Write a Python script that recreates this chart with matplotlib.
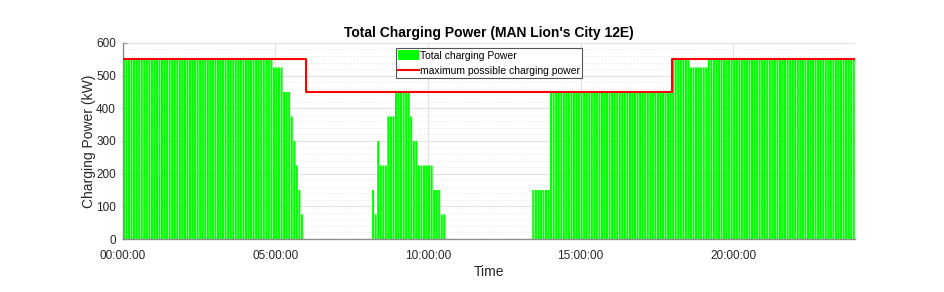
import numpy as np
import matplotlib
matplotlib.use("Agg")
import matplotlib.pyplot as plt
from matplotlib.ticker import MultipleLocator

plt.rcParams['font.family'] = ['Liberation Sans', 'DejaVu Sans']

# charging power, run-length coded over 5 minute slots (288 slots = 24 h)
slot_minutes = 5
power_levels = [550, 525, 450, 375, 300, 225, 150, 75, 0,
                150, 75, 300, 225, 375, 450, 375, 300, 225, 150, 75, 0,
                150, 450, 550, 525, 550]
power_slots = [59, 4, 3, 1, 1, 1, 1, 1, 27,
               1, 1, 1, 3, 3, 6, 1, 2, 6, 3, 2, 34,
               7, 48, 7, 7, 58]

# maximum possible charging power (step, in hours)
max_time = [0, 6, 18, 24]
max_power = [550, 450, 550, 550]

tick_hours = [0, 5, 10, 15, 20]
tick_labels = ["00:00:00", "05:00:00", "10:00:00", "15:00:00", "20:00:00"]

power = np.repeat(power_levels, power_slots)
t = np.arange(len(power)) * slot_minutes / 60.0

fig = plt.figure(figsize=(9.45, 2.92), dpi=100)
ax = fig.add_axes([0.130, 0.1815, 0.775, 0.6715])

bars = ax.bar(t, power, width=slot_minutes / 60.0 * 0.82, align='edge',
              color='#00ff00', edgecolor='none', label='Total charging Power', zorder=2)
for b in bars:
    b.set_snap(False)
line, = ax.plot(max_time, max_power, drawstyle='steps-post', color='#ff0000', lw=1.5,
                label='maximum possible charging power', zorder=3)

ax.set_xlim(0, 24)
ax.set_ylim(0, 600)
ax.set_xticks(tick_hours)
ax.set_xticklabels(tick_labels)
ax.yaxis.set_major_locator(MultipleLocator(100))
ax.yaxis.set_minor_locator(MultipleLocator(20))

ax.set_axisbelow(True)
ax.grid(True, which='major', color='#e2e2e2', lw=0.8, ls='-')
ax.grid(True, which='minor', axis='y', color='#e6e6e6', lw=0.7, ls=(0, (1, 2)))

for s in ['top', 'right']:
    ax.spines[s].set_visible(False)
for s in ['left', 'bottom']:
    ax.spines[s].set_color('#8c8c8c')
    ax.spines[s].set_linewidth(1.0)
ax.tick_params(which='both', direction='in', colors='#8c8c8c', labelcolor='#262626',
               labelsize=8.5, length=3)
ax.tick_params(axis='x', pad=8)
ax.tick_params(axis='y', pad=5)
ax.tick_params(which='minor', length=0)

ax.set_xlabel("Time", fontsize=10, color='#262626', labelpad=2)
ax.set_ylabel("Charging Power (kW)", fontsize=10, color='#262626', labelpad=0)
ax.set_title("Total Charging Power (MAN Lion's City 12E)", fontsize=10,
             fontweight='bold', color='black', pad=4)

leg = ax.legend([bars, line], ['Total charging Power', 'maximum possible charging power'],
                loc='upper center', bbox_to_anchor=(0.5, 0.973), fontsize=7.5,
                fancybox=False, framealpha=1, edgecolor='#555555',
                handlelength=2.0, handleheight=1.1, borderpad=0.2, labelspacing=0.45,
                handletextpad=0.1, borderaxespad=0)
leg.get_frame().set_linewidth(0.8)

fig.savefig("out.png", dpi=100)
